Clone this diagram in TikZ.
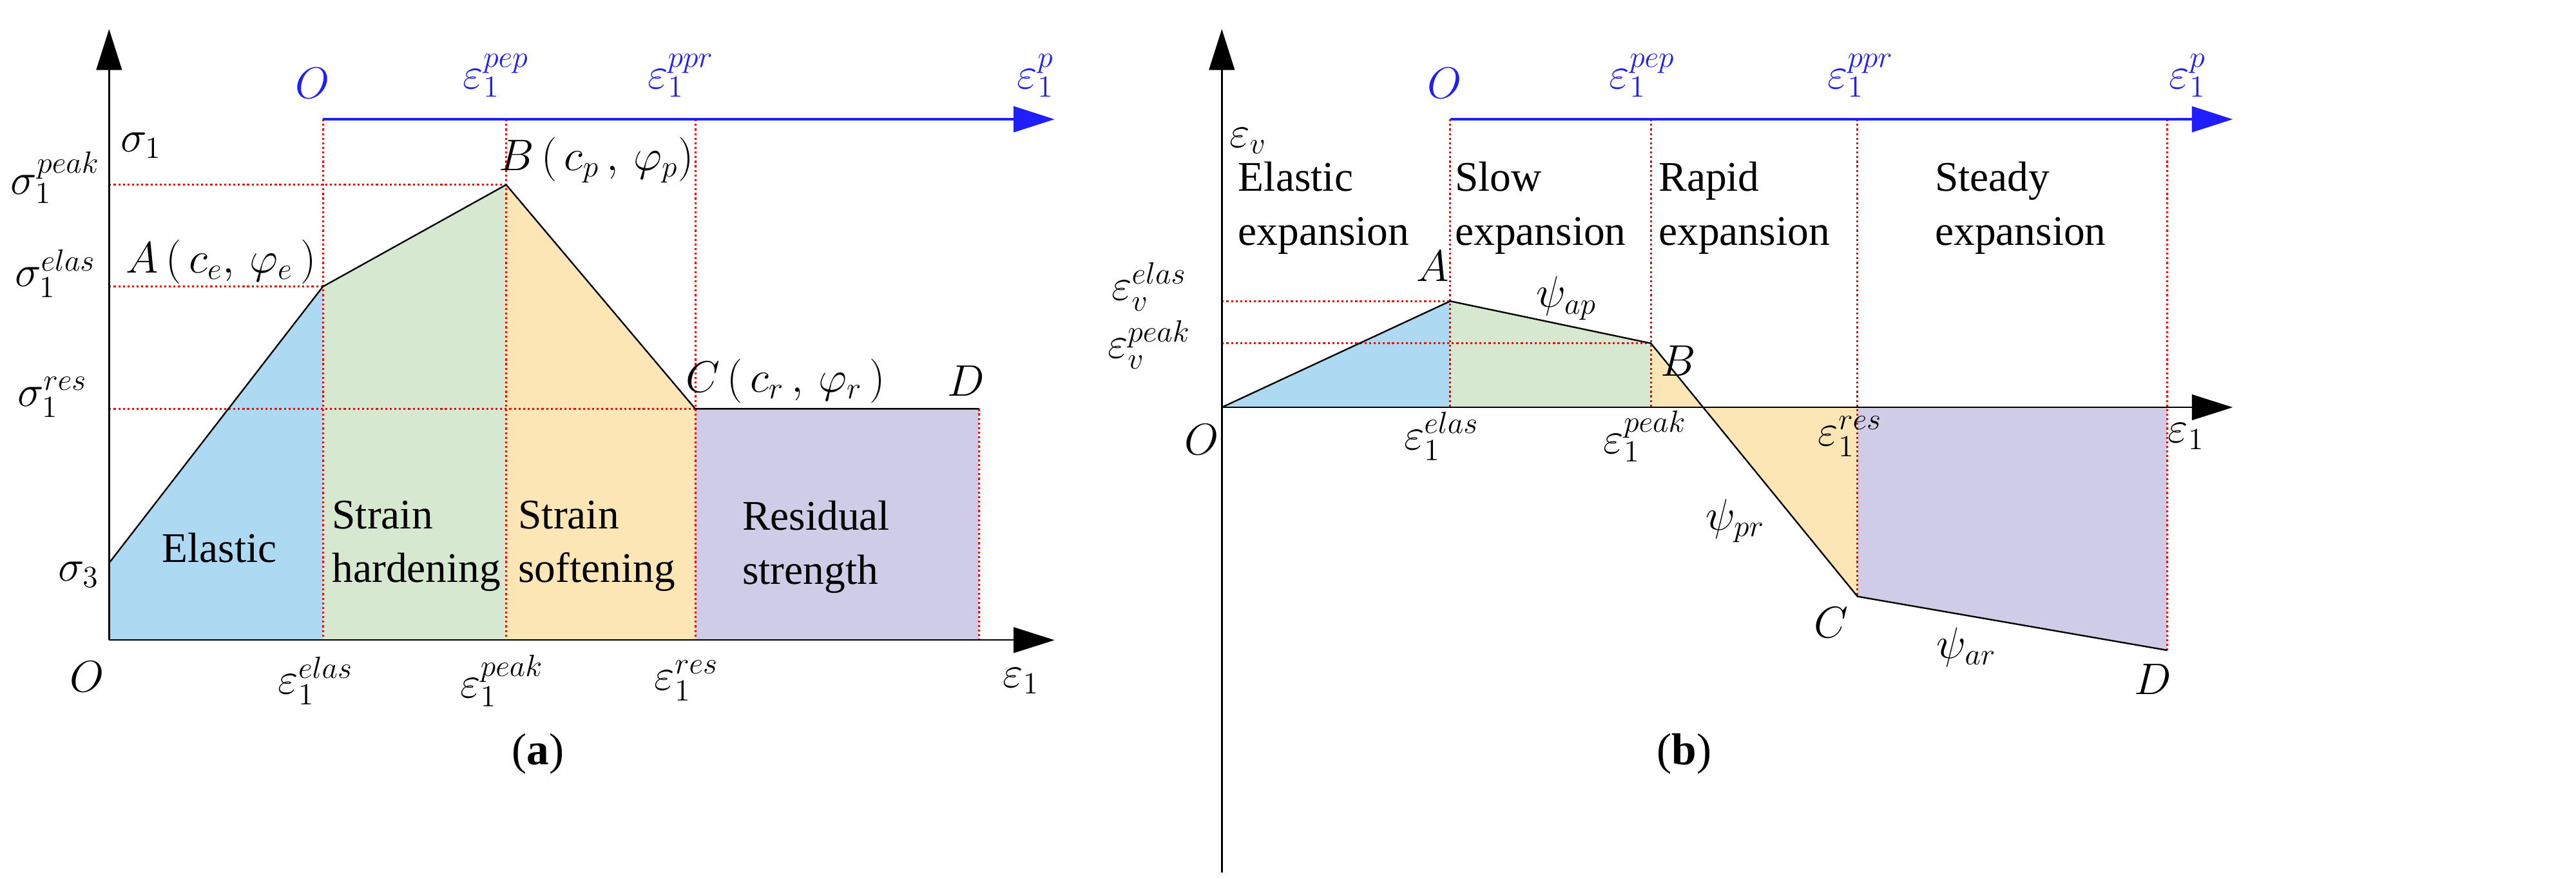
\documentclass[tikz,border=0pt]{standalone}
\usepackage{fontspec}
\setmainfont{Liberation Serif}
\usetikzlibrary{arrows.meta}
\definecolor{cB}{RGB}{173,217,243}
\definecolor{cG}{RGB}{214,233,208}
\definecolor{cO}{RGB}{252,230,181}
\definecolor{cP}{RGB}{207,204,232}
\definecolor{ax}{RGB}{30,30,255}
\begin{document}
\begin{tikzpicture}[x=0.02cm,y=-0.02cm,font=\fontsize{17.5}{21}\selectfont,
  axis/.style={line width=0.6pt,-{Triangle[length=16pt,width=10pt]}},
  baxis/.style={draw=ax,line width=1pt,-{Triangle[length=16pt,width=10pt]}},
  dot/.style={red,densely dotted,line width=0.8pt},
  curve/.style={line width=0.6pt},
  lab/.style={inner sep=1pt},
  blab/.style={inner sep=1pt,text=ax},
  txt/.style={align=left,anchor=north west,inner sep=0pt,font=\fontsize{16.5}{21}\selectfont}]
\useasboundingbox (0,0) rectangle (1771,604);
% ---------- (a)
\fill[cB] (75,440)--(75,387)--(222,197)--(222,440)--cycle;
\fill[cG] (222,440)--(222,197)--(348,127)--(348,440)--cycle;
\fill[cO] (348,440)--(348,127)--(478,281)--(478,440)--cycle;
\fill[cP] (478,440)--(478,281)--(673,281)--(673,440)--cycle;
\coordinate (aS) at (75,387); \coordinate (aA) at (222,197);
\coordinate (aB) at (348,127); \coordinate (aC) at (478,281); \coordinate (aD) at (673,281);
\draw[dot] (75,127)--(348,127) (75,197)--(222,197) (75,281)--(478,281);
\draw[dot] (222,82)--(222,440) (348,82)--(348,440) (478,82)--(478,440) (673,281)--(673,440);
\draw[curve] (aS)--(aA)--(aB)--(aC)--(aD);
\coordinate (aO) at (75,440); \coordinate (aY) at (75,20); \coordinate (aX) at (725,440);
\coordinate (aBO) at (222,82); \coordinate (aBX) at (725,82);
\draw[axis] (aO)--(aY);
\draw[axis] (aO)--(aX);
\draw[baxis] (aBO)--(aBX);
\node[lab] (l1) at (97,100) {$\sigma_1$};
\node[blab] (l2) at (215,57) {$O$};
\node[blab] (l3) at (341,52) {$\varepsilon_1^{pep}$};
\node[blab] (l4) at (468,52) {$\varepsilon_1^{ppr}$};
\node[blab] (l5) at (712,52) {$\varepsilon_1^{p}$};
\node[lab] (l6) at (38,122) {$\sigma_1^{peak}$};
\node[lab] (l7) at (38,188) {$\sigma_1^{elas}$};
\node[lab] (l8) at (36,273) {$\sigma_1^{res}$};
\node[lab] (l9) at (54,395) {$\sigma_3$};
\node[lab] (l10) at (60,465) {$O$};
\node[lab] (l11) at (217,468) {$\varepsilon_1^{elas}$};
\node[lab] (l12) at (345,468) {$\varepsilon_1^{peak}$};
\node[lab] (l13) at (472,468) {$\varepsilon_1^{res}$};
\node[lab] (l14) at (702,468) {$\varepsilon_1$};
\node[lab] (lA) at (152,180) {$A\,(\,c_e,\,\varphi_e\,)$};
\node[lab] (lB) at (410,110) {$B\,(\,c_p\,,\,\varphi_p)$};
\node[lab] (lC) at (540,262) {$C\,(\,c_r\,,\,\varphi_r\,)$};
\node[lab] (lD) at (664,262) {$D$};
\node[txt] (t1) at (111,366) {Elastic};
\node[txt] (t2) at (228,344) {Strain\\hardening};
\node[txt] (t3) at (356,344) {Strain\\softening};
\node[txt] (t4) at (510,344) {Residual\\strength};
\node (ca) at (370,518) {(\textbf{a})};
% ---------- (b)
\fill[cB] (840,280)--(997,207)--(997,280)--cycle;
\fill[cG] (997,280)--(997,207)--(1135,236)--(1135,280)--cycle;
\fill[cO] (1135,280)--(1135,236)--(1171,280)--cycle;
\fill[cO] (1171,280)--(1277,410)--(1277,280)--cycle;
\fill[cP] (1277,280)--(1277,410)--(1490,447)--(1490,280)--cycle;
\coordinate (bO) at (840,280); \coordinate (bA) at (997,207); \coordinate (bB) at (1135,236);
\coordinate (bC) at (1277,410); \coordinate (bD) at (1490,447);
\draw[dot] (840,207)--(997,207) (840,236)--(1135,236);
\draw[dot] (997,82)--(997,280) (1135,82)--(1135,280) (1277,82)--(1277,410) (1490,82)--(1490,447);
\draw[curve] (bO)--(bA)--(bB)--(bC)--(bD);
\coordinate (bYb) at (840,600); \coordinate (bY) at (840,20); \coordinate (bX) at (1535,280);
\coordinate (bBO) at (997,82); \coordinate (bBX) at (1535,82);
\draw[axis] (bYb)--(bY);
\draw[axis] (bO)--(bX);
\draw[baxis] (bBO)--(bBX);
\node[lab] (m1) at (858,97) {$\varepsilon_v$};
\node[blab] (m2) at (993,57) {$O$};
\node[blab] (m3) at (1129,52) {$\varepsilon_1^{pep}$};
\node[blab] (m4) at (1279,52) {$\varepsilon_1^{ppr}$};
\node[blab] (m5) at (1504,52) {$\varepsilon_1^{p}$};
\node[lab] (m6) at (790,197) {$\varepsilon_v^{elas}$};
\node[lab] (m7) at (790,237) {$\varepsilon_v^{peak}$};
\node[lab] (m8) at (826,302) {$O$};
\node[lab] (m9) at (991,300) {$\varepsilon_1^{elas}$};
\node[lab] (m10) at (1131,300) {$\varepsilon_1^{peak}$};
\node[lab] (m11) at (1272,300) {$\varepsilon_1^{res}$};
\node[lab] (m12) at (1503,300) {$\varepsilon_1$};
\node[lab] (mA) at (985,183) {$A$};
\node[lab] (mB) at (1154,248) {$B$};
\node[lab] (mC) at (1259,428) {$C$};
\node[lab] (mD) at (1480,467) {$D$};
\node[lab] (mp1) at (1077,205) {$\psi_{ap}$};
\node[lab] (mp2) at (1193,358) {$\psi_{pr}$};
\node[lab] (mp3) at (1352,445) {$\psi_{ar}$};
\node[txt] (u1) at (851,111) {Elastic\\expansion};
\node[txt] (u2) at (1000,111) {Slow\\expansion};
\node[txt] (u3) at (1140,111) {Rapid\\expansion};
\node[txt] (u4) at (1330,111) {Steady\\expansion};
\node (cb) at (1158,518) {(\textbf{b})};
\end{tikzpicture}
\end{document}
